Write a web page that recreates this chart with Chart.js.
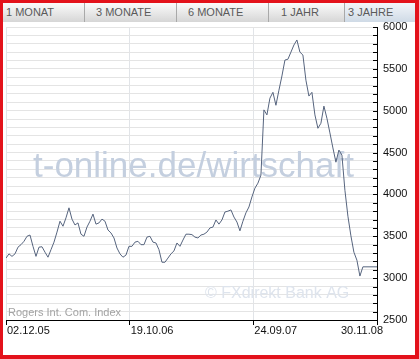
<!DOCTYPE html>
<html>
<head>
<meta charset="utf-8">
<script src="https://cdn.jsdelivr.net/npm/chart.js@4.4.1/dist/chart.umd.min.js"></script>
<style>
  html, body { margin:0; padding:0; background:#fff; }
  #wrap { position:relative; width:419px; height:359px; overflow:hidden; background:#fff; }
  #c { position:absolute; left:0; top:0; }
  #frame { position:absolute; left:0; top:0; width:419px; height:359px; box-sizing:border-box;
           border-style:solid; border-color:#e3121b; border-width:3px 4px 4px 3px; z-index:5; pointer-events:none; }
  .tab { position:absolute; top:3px; height:19px; box-sizing:border-box;
         background:linear-gradient(#fbfbfb, #d6d6d6); border-right:1px solid #a9a9a9;
         font:11px "Liberation Sans", Arial, sans-serif; color:#5a5a5a; line-height:19px; white-space:nowrap; z-index:3; }
  .tab.active { background:linear-gradient(#f3f6fa, #cfdae6); border-right:none; }
</style>
</head>
<body>
<div id="wrap">
  <canvas id="c" width="419" height="359"></canvas>
  <div class="tab" style="left:3px;width:82px;padding-left:3px;">1 MONAT</div>
  <div class="tab" style="left:85px;width:92px;padding-left:11px;">3 MONATE</div>
  <div class="tab" style="left:177px;width:92px;padding-left:11px;">6 MONATE</div>
  <div class="tab" style="left:269px;width:76px;padding-left:12px;">1 JAHR</div>
  <div class="tab active" style="left:345px;width:70px;padding-left:3px;">3 JAHRE</div>
  <div id="frame"></div>
</div>
<script>
// ---- data ----
const indexValues = [
  3240,3290,3260,3290,3370,3400,3440,3500,3515,3380,
  3260,3370,3375,3310,3250,3340,3430,3550,3680,3620,
  3720,3840,3705,3635,3660,3525,3500,3610,3680,3765,
  3645,3660,3705,3680,3575,3540,3480,3360,3290,3250,
  3275,3380,3380,3430,3440,3400,3400,3490,3500,3430,
  3420,3340,3190,3190,3240,3290,3325,3420,3380,3455,
  3525,3525,3520,3490,3480,3515,3525,3550,3600,3610,
  3695,3645,3695,3790,3800,3815,3730,3670,3565,3680,
  3780,3850,3970,4075,4135,4230,5010,4950,5150,5220,
  5065,5245,5415,5605,5615,5700,5785,5845,5700,5665,
  5365,5175,5220,4950,4790,4850,5055,4910,4735,4555,
  4385,4530,4470,4050,3740,3505,3310,3215,3025,3135
];
const dateLabels = ['02.12.05', '19.10.06', '24.09.07', '30.11.08'];
const yMin = 2500, yMax = 6000, yLabelStep = 500, yGridStep = 100;
const axisEnd = 123.7;           // x-axis length in sample units
const seriesName = 'Rogers Int. Com. Index';
const watermark1 = 't-online.de/wirtschaft';
const watermark2 = '\u00A9 FXdirekt Bank AG';

const lineColor = '#56647e';
const points = indexValues.map((v, i) => ({ x: i, y: v }));
const lastIdx = indexValues.length - 1;
const lastVal = indexValues[lastIdx];
const markerLine = [{ x: lastIdx, y: lastVal }, { x: axisEnd, y: lastVal }];
const tickPositions = dateLabels.map((_, k) => k * axisEnd / (dateLabels.length - 1));

const FONT = '"Liberation Sans", Arial, sans-serif';

const decor = {
  id: 'decor',
  beforeDatasetsDraw(chart) {
    const { ctx, chartArea: a } = chart;
    ctx.save();
    ctx.textBaseline = 'alphabetic';
    ctx.textAlign = 'left';
    ctx.font = '35px ' + FONT;
    ctx.fillStyle = 'rgb(196,207,223)';
    ctx.fillText(watermark1, a.left + 27, a.top + 150);
    ctx.font = '16px ' + FONT;
    ctx.fillStyle = 'rgb(222,228,237)';
    ctx.fillText(watermark2, a.left + 199, a.top + 271);
    ctx.font = '11px ' + FONT;
    ctx.fillStyle = '#a3a3a3';
    ctx.fillText(seriesName, a.left + 2, a.bottom - 4);
    ctx.restore();
  },
  afterDraw(chart) {
    const { ctx, chartArea: a, scales } = chart;
    const xs = scales.x, ys = scales.y;
    ctx.save();
    // inward ticks on the right axis
    ctx.strokeStyle = '#000';
    ctx.lineWidth = 1;
    ctx.beginPath();
    ys.ticks.forEach(t => {
      const y = Math.round(ys.getPixelForValue(t.value)) + 0.5;
      ctx.moveTo(a.right - 4, y);
      ctx.lineTo(a.right, y);
    });
    ctx.stroke();
    // date labels
    ctx.font = '11px ' + FONT;
    ctx.fillStyle = '#111';
    ctx.textBaseline = 'middle';
    tickPositions.forEach((p, k) => {
      const x = xs.getPixelForValue(p);
      if (k === tickPositions.length - 1) {
        ctx.textAlign = 'right';
        ctx.fillText(dateLabels[k], x + 6, a.bottom + 11);
      } else {
        ctx.textAlign = 'left';
        ctx.fillText(dateLabels[k], x + 1, a.bottom + 11);
      }
    });
    ctx.restore();
  }
};

new Chart(document.getElementById('c'), {
  type: 'line',
  data: {
    datasets: [
      { data: points, borderColor: lineColor, borderWidth: 1, pointRadius: 0, tension: 0, fill: false },
      { data: markerLine, borderColor: lineColor, borderWidth: 1, pointRadius: 0, tension: 0, fill: false }
    ]
  },
  options: {
    responsive: false,
    animation: false,
    devicePixelRatio: 1,
    layout: { padding: { left: 6, top: 27, right: 0, bottom: 0 } },
    plugins: { legend: { display: false }, tooltip: { enabled: false } },
    scales: {
      x: {
        type: 'linear',
        min: 0,
        max: axisEnd,
        afterBuildTicks: s => { s.ticks = tickPositions.map(v => ({ value: v })); },
        afterFit: s => { s.height = 39; },
        ticks: { display: false },
        grid: { color: '#e1e4e8', tickColor: '#000', tickLength: 5, drawTicks: true },
        border: { color: '#000', width: 1 }
      },
      y: {
        position: 'right',
        min: yMin,
        max: yMax,
        afterFit: s => { s.width = 42; },
        ticks: {
          stepSize: yGridStep,
          autoSkip: false,
          padding: 6,
          color: '#111',
          font: { family: FONT, size: 11 },
          callback: v => (v % yLabelStep === 0 ? String(v) : '')
        },
        grid: { color: '#e4e4e4', drawTicks: false },
        border: { color: '#000', width: 1 }
      }
    }
  },
  plugins: [decor]
});
</script>
</body>
</html>
